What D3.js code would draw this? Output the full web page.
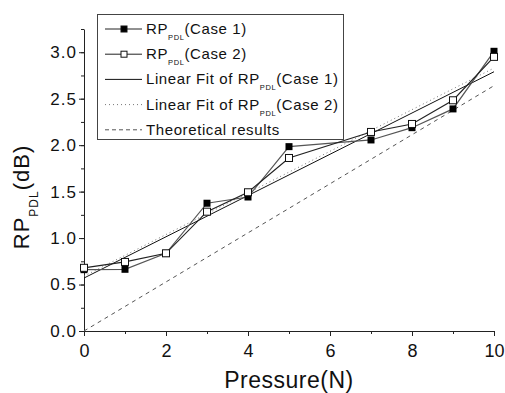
<!DOCTYPE html>
<html>
<head>
<meta charset="utf-8">
<script src="https://cdn.jsdelivr.net/npm/d3@7"></script>
<style>
  body { margin: 0; background: #fff; }
  text { font-family: Arial, "Liberation Sans", sans-serif; fill: #111; }
</style>
</head>
<body>
<div id="chart"></div>
<script>
// values
const pressure = [0, 1, 2, 3, 4, 5, 7, 8, 9, 10];
const rpCase1 = [0.66, 0.664, 0.836, 1.375, 1.442, 1.984, 2.056, 2.188, 2.39, 3.01];
const rpCase2 = [0.68, 0.743, 0.836, 1.284, 1.493, 1.862, 2.142, 2.228, 2.483, 2.95];
const fitCase1 = [[0, 0.57], [10, 2.79]];
const fitCase2 = [[0, 0.59], [10, 2.83]];
const theory = [[0, 0], [10, 2.64]];
const xTicks = [0, 2, 4, 6, 8, 10];
const yTicks = [0, 0.5, 1, 1.5, 2, 2.5, 3];
const legendLabels = [
    ["RP", "PDL", "(Case 1)"],
    ["RP", "PDL", "(Case 2)"],
    ["Linear Fit of RP", "PDL", "(Case 1)"],
    ["Linear Fit of RP", "PDL", "(Case 2)"],
    ["Theoretical results", "", ""]
];

const width = 505, height = 393;
const svg = d3.select("#chart").append("svg")
    .attr("width", width).attr("height", height);

const x = d3.scaleLinear().domain([0, 10]).range([84, 494]);
const y = d3.scaleLinear().domain([0, 3.25]).range([331, 29]);

// axes: major + minor ticks, outward
const xAxis = svg.append("g").attr("transform", "translate(0,331)")
    .call(d3.axisBottom(x).tickValues(d3.range(0, 11, 1)).tickSize(3).tickFormat("").tickSizeOuter(0));
const xMaj = svg.append("g").attr("transform", "translate(0,331)")
    .call(d3.axisBottom(x).tickValues(xTicks).tickSize(5).tickSizeOuter(0).tickFormat(d3.format("d")));
xMaj.select(".domain").remove();
xMaj.selectAll("text").attr("y", 13).style("font-size", "18px").style("fill", "#111");

const yAxis = svg.append("g").attr("transform", "translate(84,0)")
    .call(d3.axisLeft(y).tickValues(d3.range(0, 3.26, 0.25)).tickSize(3).tickFormat("").tickSizeOuter(0));
const yMaj = svg.append("g").attr("transform", "translate(84,0)")
    .call(d3.axisLeft(y).tickValues(yTicks).tickSize(5).tickSizeOuter(0).tickFormat(d3.format(".1f")));
yMaj.select(".domain").remove();
yMaj.selectAll("text").attr("x", -7).style("font-size", "17px").style("letter-spacing", "1px").style("fill", "#111");
svg.selectAll(".domain, .tick line").attr("stroke", "#222");

// lines
const line = d3.line().x(d => x(d[0])).y(d => y(d[1]));
const case1 = pressure.map((p, i) => [p, rpCase1[i]]);
const case2 = pressure.map((p, i) => [p, rpCase2[i]]);

svg.append("path").datum(theory).attr("d", line)
    .attr("fill", "none").attr("stroke", "#555").attr("stroke-dasharray", "4,4");
svg.append("path").datum(fitCase2).attr("d", line)
    .attr("fill", "none").attr("stroke", "#777").attr("stroke-dasharray", "1,3");
svg.append("path").datum(fitCase1).attr("d", line)
    .attr("fill", "none").attr("stroke", "#111");
svg.append("path").datum(case1).attr("d", line)
    .attr("fill", "none").attr("stroke", "#555").attr("stroke-width", 1.2);
svg.append("path").datum(case2).attr("d", line)
    .attr("fill", "none").attr("stroke", "#222").attr("stroke-width", 1.2);

svg.append("g").selectAll("rect").data(case1).join("rect")
    .attr("x", d => x(d[0]) - 3.5).attr("y", d => y(d[1]) - 3.5)
    .attr("width", 7).attr("height", 7).attr("fill", "#000");
svg.append("g").selectAll("rect").data(case2).join("rect")
    .attr("x", d => x(d[0]) - 3.5).attr("y", d => y(d[1]) - 3.5)
    .attr("width", 7).attr("height", 7).attr("fill", "#fff").attr("stroke", "#111");

// axis titles
svg.append("text").attr("x", 289).attr("y", 388).attr("text-anchor", "middle")
    .style("font-size", "23px").style("letter-spacing", "0.5px").text("Pressure(N)");

const yt = svg.append("text").attr("transform", "translate(29,197) rotate(-90)")
    .attr("text-anchor", "middle").style("font-size", "22px").style("letter-spacing", "1px");
yt.append("tspan").text("RP");
yt.append("tspan").attr("dy", 9).style("font-size", "12px").text("PDL");
yt.append("tspan").attr("dy", -9).text("(dB)");

// legend
const lg = svg.append("g");
lg.append("rect").attr("x", 97.5).attr("y", 14.5).attr("width", 246).attr("height", 125)
    .attr("fill", "#fff").attr("stroke", "#444");
const styles = [
    { stroke: "#222", dash: null, marker: "#000" },
    { stroke: "#222", dash: null, marker: "#fff" },
    { stroke: "#111", dash: null, marker: null },
    { stroke: "#777", dash: "1,3", marker: null },
    { stroke: "#555", dash: "4,3", marker: null }
];
legendLabels.forEach((lab, i) => {
    const cy = 29 + i * 25.2;
    const s = styles[i];
    lg.append("line").attr("x1", 105).attr("x2", 142).attr("y1", cy).attr("y2", cy)
        .attr("stroke", s.stroke).attr("stroke-dasharray", s.dash);
    if (s.marker) {
        lg.append("rect").attr("x", 121).attr("y", cy - 3).attr("width", 6).attr("height", 6)
            .attr("fill", s.marker).attr("stroke", "#111");
    }
    const t = lg.append("text").attr("x", 146).attr("y", cy + 5)
        .style("font-size", "15px").style("letter-spacing", "0.6px");
    t.append("tspan").text(lab[0]);
    if (lab[1]) {
        t.append("tspan").attr("dy", 6).style("font-size", "7.5px").text(lab[1]);
        t.append("tspan").attr("dy", -6).text(lab[2]);
    }
});
</script>
</body>
</html>
